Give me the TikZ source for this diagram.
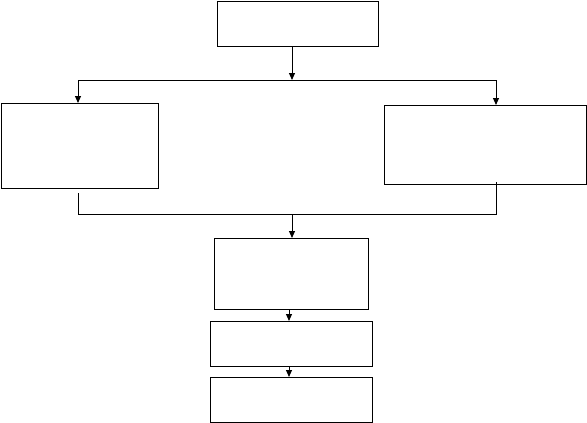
\documentclass[tikz,border=0pt]{standalone}
\usepackage{tikz}
\usetikzlibrary{arrows.meta,positioning,calc}

\begin{document}
\begin{tikzpicture}[
  x=1pt, y=-1pt,
  stepbox/.style={draw=black, line width=1pt, inner sep=0pt, outer sep=0pt},
  flow/.style={-{Triangle[width=6pt,length=7pt]}, line width=1pt},
  link/.style={line width=1pt}
]
  \useasboundingbox (0,0) rectangle (587,423);
  % boxes
  \node[stepbox, minimum width=161pt, minimum height=45pt] (start) at (297.5,23.5) {};
  \node[stepbox, minimum width=157pt, minimum height=85pt] (left) at (79.5,145.5) {};
  \node[stepbox, minimum width=202pt, minimum height=79pt] (right) at (485,144.5) {};
  \node[stepbox, minimum width=154pt, minimum height=71pt] (merge) at (291,273.5) {};
  \node[stepbox, minimum width=162pt, minimum height=45pt] (stepA) at (291,343.5) {};
  \node[stepbox, minimum width=162pt, minimum height=45pt] (stepB) at (291,399.5) {};
  % junctions
  \coordinate (split) at (292,80);
  \coordinate (splitL) at (78,80);
  \coordinate (splitR) at (496,80);
  \coordinate (joinL) at (78,214);
  \coordinate (joinR) at (496,214);
  \coordinate (join) at (292,214);
  % split
  \draw[flow] (start.south -| split) -- (split);
  \draw[link] (splitL) -- (splitR);
  \draw[flow] (splitL) -- (splitL |- left.north);
  \draw[flow] (splitR) -- (splitR |- right.north);
  % join
  \draw[link] ($(left.south -| joinL)+(0,5)$) -- (joinL) -- (joinR) -- ($(right.south -| joinR)+(0,-2)$);
  \draw[flow] (join) -- (join |- merge.north);
  \draw[flow] ($(merge.south)+(-2,0)$) -- ($(stepA.north)+(-2,0)$);
  \draw[flow] ($(stepA.south)+(-2,0)$) -- ($(stepB.north)+(-2,0)$);
\end{tikzpicture}
\end{document}
